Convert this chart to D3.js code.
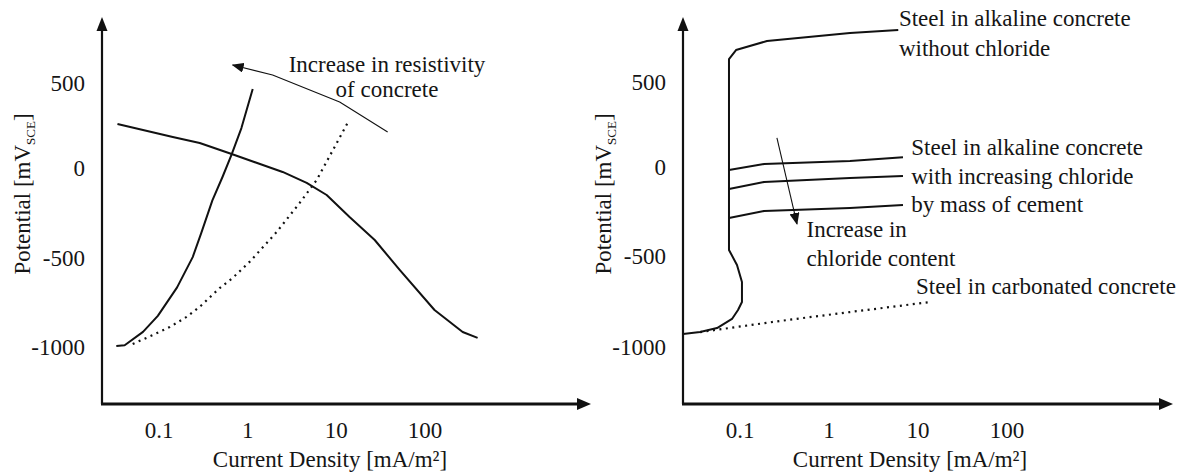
<!DOCTYPE html>
<html><head><meta charset="utf-8">
<script src="https://cdn.jsdelivr.net/npm/d3@7"></script>
<style>
html,body{margin:0;padding:0;background:#fff;}
</style></head>
<body><svg id="c" width="1183" height="474" font-family="'Liberation Serif', 'DejaVu Serif', serif"></svg>
<script>
// ---------- data ----------
const xTickValues = [0.1, 1, 10, 100];
const xTickLabels = ["0.1", "1", "10", "100"];
const yTickValues = [500, 0, -500, -1000];
const yTickLabels = ["500", "0", "-500", "-1000"];
const xTitle = "Current Density [mA/m²]";

// left panel
const anodicX = [0.033, 0.041, 0.066, 0.097, 0.16, 0.24, 0.30, 0.40, 0.52, 0.66, 0.85, 1.14];
const anodicY = [-995, -990, -915, -825, -665, -495, -360, -180, -50, 80, 235, 465];
const cathodicX = [0.034, 0.143, 0.288, 0.66, 2.48, 4.63, 7.78, 14.1, 27.1, 51.8, 128, 266, 392];
const cathodicY = [259, 182, 147, 82, -22, -83, -150, -272, -400, -567, -792, -916, -949];
const resistX = [0.0505, 0.085, 0.132, 0.205, 0.266, 0.303, 0.483, 0.677, 1.05, 1.64, 2.12, 3.86, 6.0, 13.4];
const resistY = [-983, -933, -888, -831, -787, -764, -669, -612, -522, -417, -356, -194, -67, 265];
const resArrowX = [37.9, 10.9, 1.91, 0.677];
const resArrowY = [212, 388, 547, 606];
const leftNote = ["Increase in resistivity", "of concrete"];

// right panel
const passiveX = [0.0229, 0.0356, 0.0552, 0.0813, 0.095, 0.1052, 0.1052, 0.0925, 0.0752, 0.0752, 0.0902, 0.201, 1.72, 6.0];
const passiveY = [-929, -918, -896, -846, -797, -753, -643, -549, -466, 635, 688, 741, 788, 806];
const chlorideX = [0.0752, 0.186, 1.72, 6.78];
const chloride1Y = [-17, 17, 35, 58];
const chloride2Y = [-124, -84, -62, -51];
const chloride3Y = [-287, -247, -230, -213];
const carbX = [0.0356, 0.281, 1.72, 13.6];
const carbY = [-918, -857, -808, -753];
const clArrowX = [0.26, 0.437];
const clArrowY = [171, -320];
const rightNotes = [
  {t:"Steel in alkaline concrete", x:6.1, y:832},
  {t:"without chloride", x:6.1, y:655},
  {t:"Steel in alkaline concrete", x:8.4, y:70},
  {t:"with increasing chloride", x:8.4, y:-94},
  {t:"by mass of cement", x:8.4, y:-253},
  {t:"Increase in", x:0.56, y:-393},
  {t:"chloride content", x:0.56, y:-556},
  {t:"Steel in carbonated concrete", x:9.5, y:-710}
];

// ---------- drawing ----------
const FONT = "'Liberation Serif', 'DejaVu Serif', serif";
const svg = d3.select("#c");
const ink = "#111";
const defs = svg.append("defs");
defs.append("marker").attr("id","ah").attr("viewBox","0 0 12 10").attr("refX",11).attr("refY",5)
  .attr("markerWidth",12).attr("markerHeight",10).attr("markerUnits","userSpaceOnUse").attr("orient","auto")
  .append("path").attr("d","M0,0 L12,5 L0,10 Z").attr("fill",ink);

function txt(sel) { return sel.attr("font-family", FONT).attr("fill", "#151515"); }

function panel(o) {
  const x = d3.scaleLog().domain([0.1, 100]).range(o.xr);
  const y = d3.scaleLinear().domain([-1000, -500, 0, 500]).range(o.yr);
  const g = svg.append("g");
  g.append("line").attr("x1",o.ax).attr("y1",o.ay).attr("x2",o.ax).attr("y2",o.top+12)
    .attr("stroke",ink).attr("stroke-width",2.2);
  g.append("path").attr("d",`M${o.ax},${o.top} L${o.ax-5.5},${o.top+14} L${o.ax+5.5},${o.top+14} Z`).attr("fill",ink);
  g.append("line").attr("x1",o.ax-1).attr("y1",o.ay).attr("x2",o.right-12).attr("y2",o.ay)
    .attr("stroke",ink).attr("stroke-width",3);
  g.append("path").attr("d",`M${o.right},${o.ay} L${o.right-14},${o.ay-6} L${o.right-14},${o.ay+6} Z`).attr("fill",ink);
  txt(g.selectAll(".yt").data(yTickValues).join("text"))
    .attr("x",o.ax-17).attr("y",d=>y(d)+8).attr("text-anchor","end").attr("font-size",23)
    .text((d,i)=>yTickLabels[i]);
  txt(g.selectAll(".xt").data(xTickValues).join("text"))
    .attr("x",d=>x(d)).attr("y",438).attr("text-anchor","middle").attr("font-size",23)
    .text((d,i)=>xTickLabels[i]);
  txt(g.append("text")).attr("x",o.titleX).attr("y",467).attr("text-anchor","middle").attr("font-size",23).text(xTitle);
  const yt = txt(g.append("text")).attr("transform",`translate(${o.ytX},194) rotate(-90)`)
    .attr("text-anchor","middle").attr("font-size",23);
  yt.append("tspan").text("Potential [mV");
  yt.append("tspan").attr("font-size",13).attr("dy",5).text("SCE");
  yt.append("tspan").attr("dy",-5).text("]");
  return {g, x, y};
}

function series(p, xs, ys, opts={}) {
  const pts = xs.map((v,i)=>[v, ys[i]]);
  const line = d3.line().x(d=>p.x(d[0])).y(d=>p.y(d[1]));
  const path = p.g.append("path").datum(pts).attr("d",line).attr("fill","none")
    .attr("stroke",ink).attr("stroke-width",opts.w||2).attr("stroke-linejoin","round");
  if (opts.dot) path.attr("stroke-dasharray","2,4.5").attr("stroke-width",2.2);
  if (opts.arrow) path.attr("marker-end","url(#ah)");
  return path;
}

const L = panel({xr:[159,425], yr:[347,258,168,83], ax:102, ay:404, top:17, right:591, titleX:330, ytX:30});
series(L, cathodicX, cathodicY);
series(L, anodicX, anodicY);
series(L, resistX, resistY, {dot:true});
series(L, resArrowX, resArrowY, {w:1.1, arrow:true});
txt(L.g.selectAll(".ln").data(leftNote).join("text"))
  .attr("x",387).attr("y",(d,i)=>72+i*25).attr("text-anchor","middle").attr("font-size",23).text(d=>d);

const R = panel({xr:[740,1007], yr:[347,256,167,82], ax:683, ay:404, top:17, right:1173, titleX:910, ytX:611});
series(R, passiveX, passiveY);
series(R, chlorideX, chloride1Y);
series(R, chlorideX, chloride2Y);
series(R, chlorideX, chloride3Y);
series(R, carbX, carbY, {dot:true});
series(R, clArrowX, clArrowY, {w:1.1, arrow:true});
txt(R.g.selectAll(".rn").data(rightNotes).join("text"))
  .attr("x",d=>R.x(d.x)).attr("y",d=>R.y(d.y)).attr("font-size",23).text(d=>d.t);
</script></body></html>
